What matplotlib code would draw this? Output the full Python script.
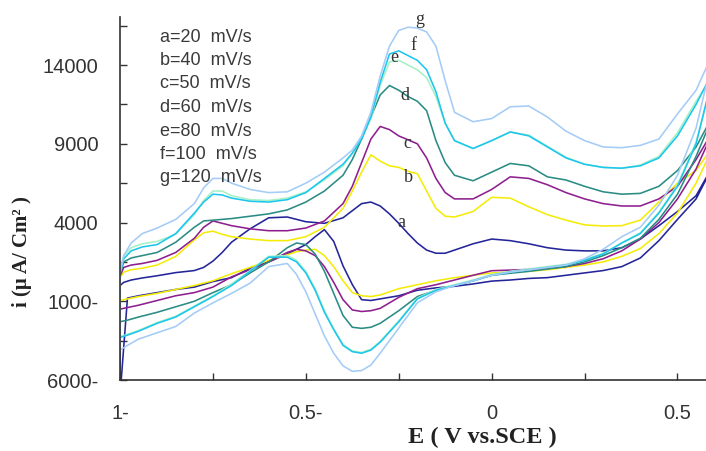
import numpy as np
import matplotlib.pyplot as plt

# potential grids (V vs SCE): forward scan and return scan
E_up = [-1.0, -0.99, -0.97, -0.94, -0.9, -0.85, -0.8, -0.775, -0.75, -0.725, -0.7, -0.65, -0.6,
        -0.55, -0.5, -0.45, -0.4, -0.375, -0.35, -0.325, -0.3, -0.275, -0.25, -0.225, -0.2,
        -0.175, -0.15, -0.125, -0.1, -0.05, 0.0, 0.05, 0.1, 0.15, 0.2, 0.25, 0.3, 0.35, 0.4,
        0.45, 0.5, 0.55, 0.6]
E_dn = [0.6, 0.55, 0.5, 0.45, 0.4, 0.35, 0.3, 0.25, 0.2, 0.15, 0.1, 0.05, 0.0,
        -0.05, -0.1, -0.15, -0.2, -0.25, -0.3, -0.325, -0.35, -0.375, -0.4, -0.425, -0.45,
        -0.475, -0.5, -0.525, -0.55, -0.6, -0.65, -0.7, -0.75, -0.8, -0.85, -0.9, -0.95,
        -0.98, -1.0]

# current density (uA/cm2), forward scan
a_up = [0, 200, 350, 480, 620, 820, 950, 1150, 1550, 2100, 2750, 3600, 4300, 4350, 4050, 3950,
        4300, 4750, 5200, 5300, 5050, 4550, 3950, 3300, 2700, 2250, 2050, 2050, 2250, 2650, 2950,
        2850, 2650, 2400, 2250, 2200, 2200, 2400, 2950, 3800, 4700, 5700, 7800]
b_up = [500, 850, 1000, 1100, 1300, 1850, 2900, 3350, 3450, 3250, 3100, 2950, 2850, 2850, 3100,
        3700, 4900, 6000, 7200, 8300, 7900, 7600, 7500, 7250, 7100, 6000, 4900, 4400, 4350, 4700,
        5600, 5550, 5000, 4500, 4150, 3850, 3780, 3800, 4150, 5300, 6500, 7300, 9000]
c_up = [600, 1150, 1300, 1400, 1600, 2100, 3000, 3700, 4100, 3950, 3800, 3600, 3480, 3480, 3650,
        4100, 5200, 6300, 7800, 9300, 10100, 9900, 9500, 9250, 9000, 8100, 6800, 5900, 5500, 5500,
        6100, 6900, 6800, 6400, 5900, 5500, 5200, 5050, 5050, 5500, 6300, 8000, 10000]
d_up = [700, 1500, 1750, 1900, 2100, 2750, 3700, 4100, 4150, 4200, 4250, 4400, 4550, 4800, 5300,
        6000, 7000, 8000, 9300, 10700, 12100, 12700, 12400, 12000, 11700, 11100, 9200, 7800, 7000,
        6650, 7200, 7750, 7600, 6900, 6700, 6300, 5950, 5800, 5850, 6300, 7300, 8800, 11000]
e_up = [900, 1900, 2400, 2650, 2800, 3250, 4500, 5400, 6000, 6000, 5700, 5450, 5400, 5550, 5950,
        6700, 7600, 8400, 9400, 10600, 12700, 14200, 14300, 14000, 13700, 13200, 12000, 10300, 9200,
        8700, 9200, 9750, 9550, 8850, 8150, 7700, 7500, 7450, 7650, 8200, 9700, 11700, 13500]
f_up = [800, 1700, 2200, 2450, 2600, 3300, 4600, 5300, 5800, 5750, 5550, 5350, 5300, 5450, 5900,
        6800, 7700, 8400, 9300, 10700, 12900, 14700, 14900, 14600, 14300, 13700, 12300, 10300, 9200,
        8700, 9200, 9750, 9500, 8800, 8100, 7700, 7500, 7450, 7600, 8100, 9500, 11500, 13800]
g_up = [800, 1900, 2700, 3300, 3650, 4200, 5200, 6200, 6800, 6800, 6500, 6100, 5900, 5950, 6500,
        7200, 8100, 8600, 9500, 11000, 13300, 15200, 16200, 16400, 16350, 16100, 15200, 13000, 11000,
        10400, 10600, 11350, 11400, 10700, 9800, 9200, 8800, 8750, 8900, 9300, 10900, 12400, 15000]

# current density (uA/cm2), return scan
a_dn = [7800, 5500, 4200, 2850, 1750, 1200, 950, 800, 650, 500, 450, 350, 280,
        100, -50, -150, -300, -650, -850, -950, -900, 60, 1250, 2800, 3550, 3100, 2600, 2300, 2000,
        1500, 1100, 500, 250, -100, -250, -450, -650, -800, -7000]
b_dn = [9000, 6500, 4600, 3300, 2350, 1850, 1500, 1300, 1150, 1000, 900, 850, 800,
        650, 500, 300, 50, -200, -600, -700, -650, -450, 300, 1200, 1900, 2300, 2250, 2150, 1950,
        1600, 1150, 750, 300, 0, -250, -500, -700, -850, -950]
c_dn = [10000, 7400, 5500, 4000, 2950, 2200, 1700, 1400, 1200, 1080, 1020, 980, 940,
        650, 350, 50, -200, -750, -1450, -1600, -1650, -1550, -900, 200, 1200, 1900, 2200, 2300, 2100,
        1500, 1000, 550, -100, -450, -650, -950, -1250, -1400, -1500]
d_dn = [11000, 8200, 5800, 4200, 3000, 2400, 1900, 1500, 1200, 1050, 900, 780, 650,
        300, 0, -300, -700, -1600, -2400, -2650, -2720, -2650, -1900, -500, 900, 2000, 2600, 2700, 2400,
        1500, 800, 50, -450, -1000, -1350, -1700, -2000, -2200, -2300]
e_dn = [13500, 9100, 6400, 4650, 3350, 2700, 2050, 1650, 1350, 1200, 1050, 900, 700,
        350, 50, -250, -800, -2250, -3550, -4050, -4250, -4150, -3750, -2750, -1600, -200, 900, 1600, 1900,
        1850, 950, 100, -650, -1300, -1950, -2350, -2850, -3100, -3250]
f_dn = [13800, 9000, 6300, 4600, 3300, 2700, 2000, 1600, 1300, 1150, 1000, 850, 650,
        300, 0, -300, -850, -2300, -3600, -4100, -4300, -4200, -3800, -2800, -1700, -300, 800, 1500, 1800,
        1800, 900, 0, -700, -1350, -2000, -2400, -2900, -3150, -3300]
g_dn = [15000, 10000, 7000, 5100, 3700, 3100, 2300, 1700, 1300, 1150, 1000, 850, 650,
        300, 0, -400, -1100, -2700, -4300, -5050, -5400, -5450, -5100, -4300, -3200, -1800, -400, 700, 1400,
        1200, 150, -500, -1100, -1750, -2600, -3000, -3400, -3800, -4100]

names = ["a", "b", "c", "d", "e", "f", "g"]
rates = [20, 40, 50, 60, 80, 100, 120]
colors = ["#25259a", "#f4ec08", "#8e1f8e", "#2a8c84", "#a6f0c6", "#1cc6ee", "#a4ccf6"]
ups = [a_up, b_up, c_up, d_up, e_up, f_up, g_up]
dns = [a_dn, b_dn, c_dn, d_dn, e_dn, f_dn, g_dn]

fig = plt.figure(figsize=(7.06, 4.51), dpi=100)
ax = fig.add_axes([0.170, 0.1574, 0.830, 0.8049])

for up, dn, col in zip(ups, dns, colors):
    x = E_up + E_dn + [E_up[0]]
    y = up + dn + [up[0]]
    ax.plot(x, y, color=col, lw=1.15, solid_joinstyle="round")

ax.set_xlim(-1, 0.5767)
ax.set_ylim(-6000, 17050)

for s in ["top", "right"]:
    ax.spines[s].set_visible(False)
for s in ["left", "bottom"]:
    ax.spines[s].set_color("#333333")
    ax.spines[s].set_linewidth(1.2)

yt = np.arange(-6000, 17000, 2500)
ylab = {14000: "14000", 9000: "9000", 4000: "4000", -1000: "1000-", -6000: "6000-"}
ax.set_yticks(yt)
ax.set_yticklabels([ylab.get(int(v), "") for v in yt])
xt = [-1.0, -0.75, -0.5, -0.25, 0.0, 0.25, 0.5]
ax.set_xticks(xt)
ax.set_xticklabels(["1-", "", "0.5-", "", "0", "", "0.5"])
ax.tick_params(axis="both", direction="in", length=5, width=1, color="#333333",
               labelcolor="#333333", labelsize=14.5)
ax.tick_params(axis="y", pad=15.5)
ax.tick_params(axis="x", pad=17)
for t in ax.get_xticklabels() + ax.get_yticklabels():
    t.set_fontfamily("Liberation Sans")

# scan-rate list
for i, (n, r) in enumerate(zip(names, rates)):
    fig.text(160 / 706, 1 - (37 + i * 23.5) / 451, f"{n}={r}  mV/s", fontsize=13,
             family="Liberation Sans", color="#3a3a3a", va="center", ha="left")

# curve letters
lab_pos = [(401, 223), (408, 177), (407, 143), (405, 95), (394, 58), (413, 46), (420, 19)]
for n, (px, py) in zip(names, lab_pos):
    fig.text(px / 706, 1 - py / 451, n, fontsize=13, family="Liberation Serif",
             color="#333333", ha="center", va="center")

fig.text(482 / 706, 1 - 437 / 451, "E ( V vs.SCE )", fontsize=17.5, family="Liberation Serif",
         fontweight="bold", ha="center", va="center", color="#222222")
fig.text(22 / 706, 1 - 252 / 451, "i (μ A/ Cm² )", fontsize=15, family="Liberation Serif",
         fontweight="bold", rotation=90, ha="center", va="center", color="#222222")

fig.savefig("out.png", dpi=100)
